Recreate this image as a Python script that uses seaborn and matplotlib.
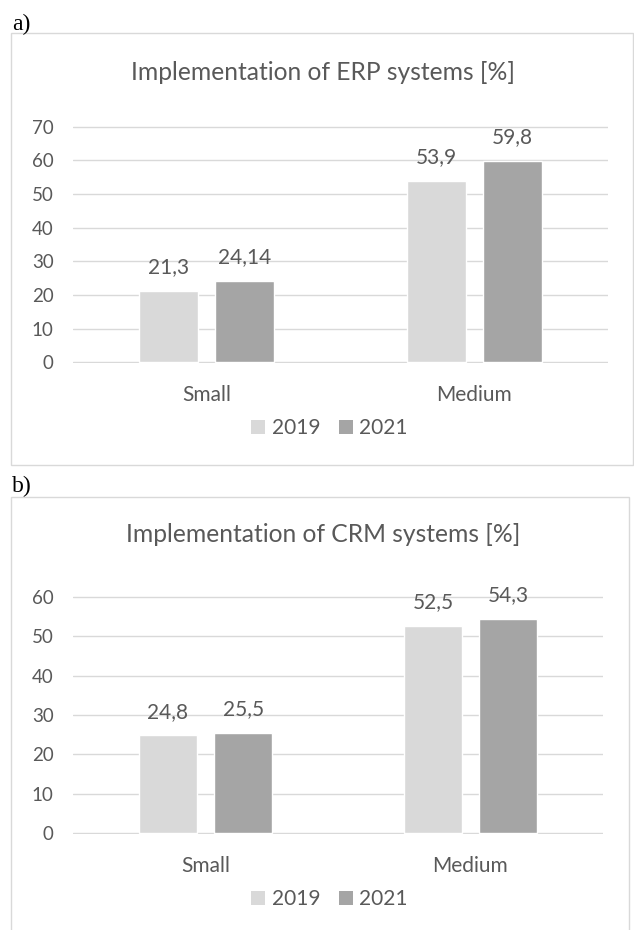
import pandas as pd
import matplotlib.pyplot as plt
import seaborn as sns
from matplotlib.patches import Rectangle, Patch

# Data
categories = ["Small", "Medium"]
years = ["2019", "2021"]
erp_2019 = [21.3, 53.9]
erp_2021 = [24.14, 59.8]
crm_2019 = [24.8, 52.5]
crm_2021 = [25.5, 54.3]

# Canvas in pixels (dpi 100)
W, H = 634, 930
TEXT = "#595959"
GRID = "#D9D9D9"
palette = {"2019": "#D9D9D9", "2021": "#A5A5A5"}


def fx(px):
    return px / W


def fy(py):
    return 1 - py / H


def make_df(v2019, v2021):
    return pd.DataFrame(
        {
            "Size": categories * 2,
            "Year": [years[0]] * len(categories) + [years[1]] * len(categories),
            "Value": v2019 + v2021,
        }
    )


def fmt(v):
    # comma as decimal separator, as in the original
    return ("%g" % v).replace(".", ",")


def draw_panel(fig, df, title, tag, box, plot, ymax, title_y, legend_y, tag_y):
    # light grey frame round the chart
    x0, y0, x1, y1 = box
    fig.add_artist(
        Rectangle(
            (fx(x0), fy(y1)),
            (x1 - x0) / W,
            (y1 - y0) / H,
            transform=fig.transFigure,
            fill=False,
            edgecolor=GRID,
            linewidth=1.0,
        )
    )
    fig.text(fx(12), fy(tag_y), tag, family="Liberation Serif", fontsize=17,
             color="black", va="baseline", ha="left")

    left, top, right, bottom = plot
    ax = fig.add_axes([fx(left), fy(bottom), (right - left) / W, (bottom - top) / H])
    sns.barplot(
        data=df, x="Size", y="Value", hue="Year",
        order=categories, hue_order=years, palette=palette,
        width=0.568, gap=0.223, saturation=1, errorbar=None,
        legend=False, ax=ax,
    )
    ax.set_xlim(-0.5, len(categories) - 0.5)
    ax.set_ylim(-0.2, ymax + 0.2)
    ax.set_yticks(range(0, ymax + 1, 10))
    ax.yaxis.grid(True, color=GRID, linewidth=1.0)
    ax.set_axisbelow(True)
    for s in ax.spines.values():
        s.set_visible(False)
    ax.set_xlabel("")
    ax.set_ylabel("")
    ax.tick_params(axis="y", length=0, pad=14, labelsize=13.5, labelcolor=TEXT)
    ax.tick_params(axis="x", length=0, pad=16, labelsize=15, labelcolor=TEXT)

    for cont in ax.containers:
        ax.bar_label(cont, labels=[fmt(v) for v in cont.datavalues],
                     padding=10, fontsize=15, color=TEXT)

    fig.text(fx(323), fy(title_y), title, ha="center", va="baseline",
             fontsize=17.7, color=TEXT)

    handles = [Patch(facecolor=palette[y], edgecolor="none", label=y) for y in years]
    fig.legend(
        handles=handles, loc="center", bbox_to_anchor=(fx(329.5), fy(legend_y)),
        ncol=2, frameon=False, fontsize=15, labelcolor=TEXT,
        handlelength=0.68, handleheight=0.68, handletextpad=0.3,
        columnspacing=0.9, borderpad=0, borderaxespad=0,
    )
    return ax


sns.set_theme(style="white")
plt.rcParams["font.family"] = ["Lato", "DejaVu Sans"]

fig = plt.figure(figsize=(W / 100, H / 100), dpi=100)

draw_panel(
    fig, make_df(erp_2019, erp_2021), "Implementation of ERP systems [%]", "a)",
    box=(11, 33, 633, 465), plot=(73, 126, 608, 363), ymax=70,
    title_y=80, legend_y=428, tag_y=30,
)
draw_panel(
    fig, make_df(crm_2019, crm_2021), "Implementation of CRM systems [%]", "b)",
    box=(11, 497, 629, 940), plot=(73, 596, 603, 834), ymax=60,
    title_y=542, legend_y=899, tag_y=492,
)

fig.savefig("out.png", dpi=100)
